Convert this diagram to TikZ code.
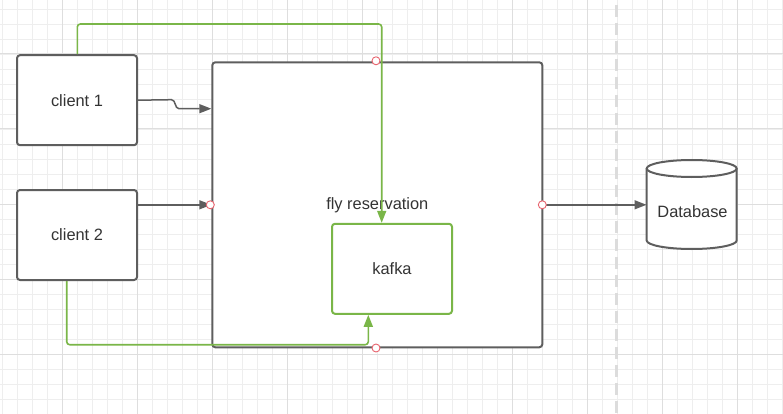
\documentclass[tikz,border=0pt]{standalone}
\usepackage{fontspec}
\setmainfont{Liberation Sans}
\usetikzlibrary{arrows.meta}
\definecolor{boxgray}{HTML}{5E5E5E}
\definecolor{txtgray}{HTML}{333333}
\definecolor{lgreen}{HTML}{7AB648}
\definecolor{gridminor}{HTML}{EEEEEE}
\definecolor{gridmajor}{HTML}{DEDEDE}
\definecolor{dashgray}{HTML}{DCDCDC}
\definecolor{pinred}{HTML}{E8646E}
\tikzset{
  box/.style={draw=boxgray, line width=2pt, rounded corners=3pt, fill=white, minimum width=120pt, minimum height=90pt, inner sep=0pt, text=txtgray, font=\fontsize{16.4}{20}\selectfont},
  gbox/.style={box, draw=lgreen},
  conn/.style={draw=boxgray, line width=1.5pt, -{Triangle[length=12pt,width=9pt]}},
  gconn/.style={draw=lgreen, line width=1.6pt, rounded corners=3pt, -{Triangle[length=12pt,width=9pt]}},
  pin/.style={circle, draw=pinred, fill=white, line width=0.9pt, minimum size=8pt, inner sep=0pt},
}
\begin{document}
\begin{tikzpicture}[x=1pt,y=-1pt]
\useasboundingbox (0,0) rectangle (783,414);
\fill[white] (0,0) rectangle (783,414);
% grid
\foreach \x in {2,17,...,782} {\draw[gridminor, line width=0.8pt] (\x,0) -- (\x,414);}
\foreach \y in {9,24,...,413} {\draw[gridminor, line width=0.8pt] (0,\y) -- (783,\y);}
\foreach \x in {62,137,...,782} {\draw[gridmajor, line width=1pt] (\x,0) -- (\x,414);}
\foreach \y in {54,129,...,413} {\draw[gridmajor, line width=1pt] (0,\y) -- (783,\y);}
% dashed separator
\draw[dashgray, line width=3pt, dash pattern=on 12pt off 6pt] (616.7,5) -- (616.7,414);
% nodes
\node[box] (client1) at (77,100.2) {client 1};
\node[box] (client2) at (77,235) {client 2};
\node[box, minimum width=330pt, minimum height=285pt] (fly) at (377.3,204.8) {fly reservation};
\node[gbox] (kafka) at (392,268.8) {kafka};
% database cylinder
\node[minimum width=90pt, minimum height=90pt, inner sep=0pt] (db) at (691.7,204.8) {};
\fill[white] (646.7,168.5) -- (646.7,240.5) arc[start angle=180, end angle=360, x radius=45pt, y radius=8.5pt] -- (736.7,168.5) arc[start angle=0, end angle=180, x radius=45pt, y radius=8.5pt] -- cycle;
\draw[boxgray, line width=2pt] (646.7,168.5) -- (646.7,240.5) arc[start angle=180, end angle=360, x radius=45pt, y radius=8.5pt] -- (736.7,168.5);
\draw[boxgray, line width=2pt] (691.7,168.5) ellipse[x radius=45pt, y radius=8.5pt];
\node[text=txtgray, font=\fontsize{16.4}{20}\selectfont] (dblabel) at (692.5,212) {Database};
% coordinates
\coordinate (t1) at (0,108.7);
\coordinate (g1) at (381.7,24);
\coordinate (b1) at (66.7,344.7);
\coordinate (b2) at (368.3,344.7);
% connectors
\draw[conn] (client1.east) -- (171.5,99.7) .. controls (176,99.7) and (174.5,108.7) .. (179,108.7) -- (fly.west |- t1);
\draw[conn] (client2.east |- fly.west) -- (fly.west);
\draw[conn] (fly.east) -- (db.west);
\draw[gconn] (client1.north -| 77.3,0) |- (g1) -- (g1 |- kafka.north);
\draw[gconn] (client2.south -| b1) -- (b1) -- (b2) -- (b2 |- kafka.south);
% pins
\node[pin] (p1) at (376,60.8) {};
\node[pin] (p2) at (210.3,204.8) {};
\node[pin] (p3) at (542.3,204.8) {};
\node[pin] (p4) at (376,348) {};
\end{tikzpicture}
\end{document}
